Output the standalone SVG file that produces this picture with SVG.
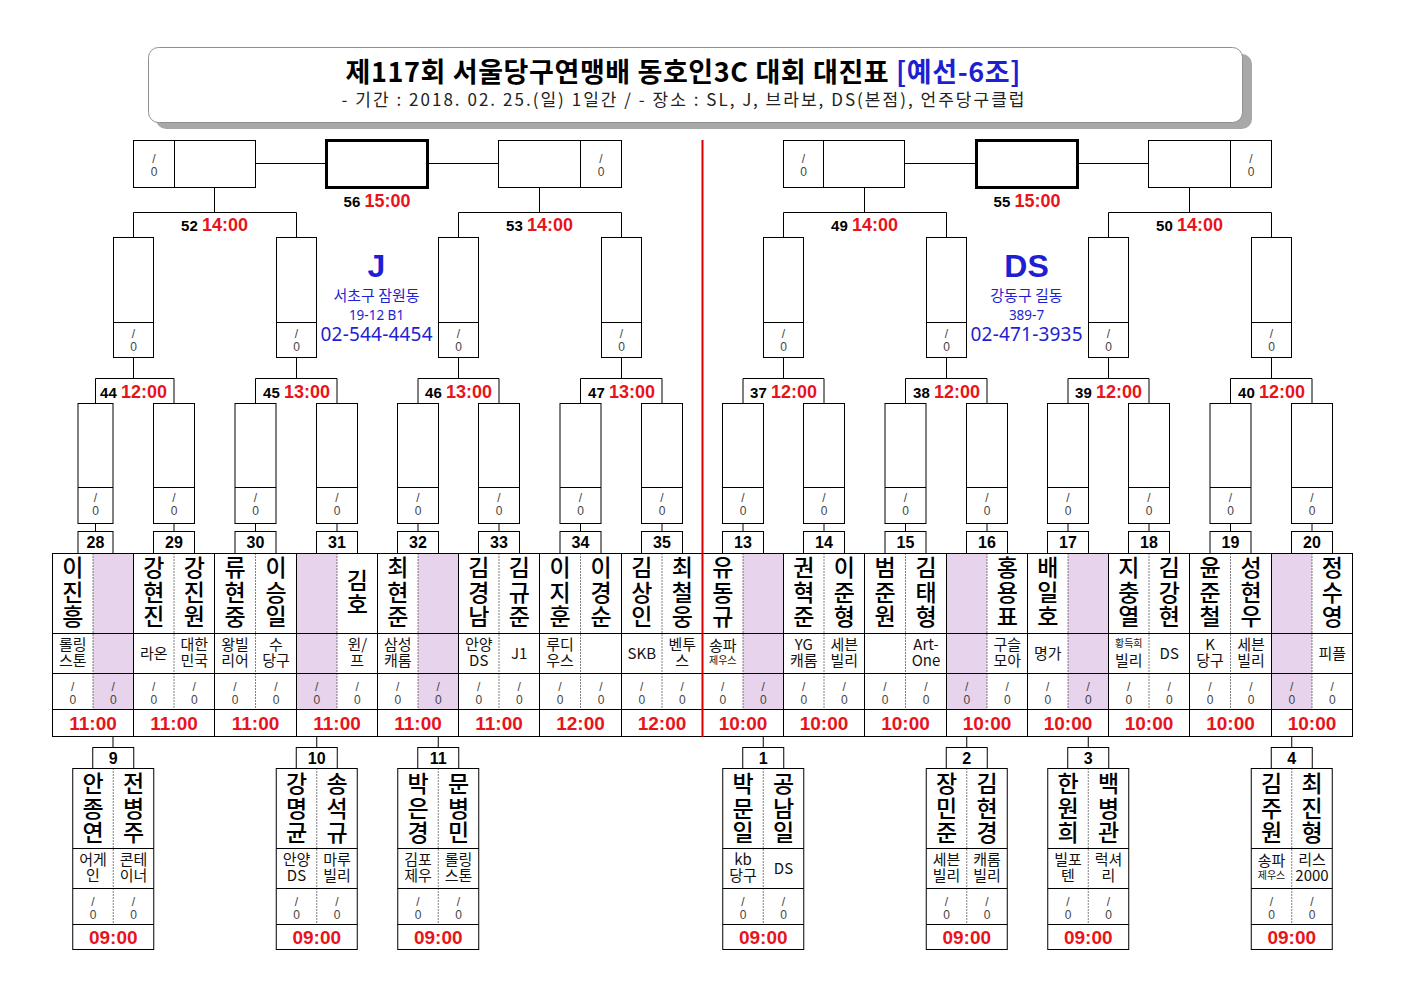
<svg xmlns="http://www.w3.org/2000/svg" xmlns:xlink="http://www.w3.org/1999/xlink" width="1403" height="992" viewBox="0 0 1403 992">
<style>
.ln{fill:none;stroke:#000;stroke-width:1}
.bx{fill:#fff;stroke:#000;stroke-width:1}
.fb{fill:#fff;stroke:#000;stroke-width:3}
.dt{fill:none;stroke:#000;stroke-width:1;stroke-dasharray:1 2}
.pk{fill:#E8D3EC}
.nm{font-family:"Noto Sans CJK KR","Noto Sans",sans-serif;font-size:23px;font-weight:500;fill:#000;text-anchor:middle;writing-mode:vertical-rl;text-orientation:upright;letter-spacing:1.5px}
.cl{font-family:"Noto Sans CJK KR","Noto Sans",sans-serif;font-size:15px;fill:#111;text-anchor:middle}
.cs{font-size:10px}
.sc{font-family:"Liberation Sans",sans-serif;font-size:12px;fill:#444;text-anchor:middle}
.tm{font-family:"Liberation Sans",sans-serif;font-size:19px;font-weight:bold;fill:#E8141B;text-anchor:middle}
.no{font-family:"Liberation Sans",sans-serif;font-size:16px;font-weight:bold;fill:#000;text-anchor:middle}
.lb{font-family:"Liberation Sans",sans-serif;font-weight:bold;text-anchor:middle;font-size:15px;fill:#000}
.lt{font-size:18px;fill:#E8141B}
.bl{fill:#1F1FD2;text-anchor:middle}
.kr{font-family:"Noto Sans CJK KR","Noto Sans",sans-serif}
.ns{font-family:"Noto Sans","DejaVu Sans",sans-serif}
</style>
<defs>
<g id="sc"><text class="sc" x="0" y="0">/</text><text class="sc" x="0" y="12.5">0</text></g>
</defs>
<rect width="1403" height="992" fill="#fff"/>

<g id="title">
<rect x="156" y="54" width="1096" height="75" rx="10" fill="#a8a8a8"/>
<rect x="148.5" y="47.5" width="1094" height="75" rx="10" fill="#fff" stroke="#909090"/>
<text x="683" y="82" class="kr" font-size="27" font-weight="bold" text-anchor="middle" fill="#000" textLength="675" lengthAdjust="spacing">제117회 서울당구연맹배 동호인3C 대회 대진표 <tspan fill="#1F1FD2">[예선-6조]</tspan></text>
<text x="683" y="106" class="kr" font-size="17" text-anchor="middle" fill="#222" textLength="683" lengthAdjust="spacing">- 기간 : 2018. 02. 25.(일) 1일간 / - 장소 : SL, J, 브라보, DS(본점), 언주당구클럽</text>
</g>

<g id="connectors">
<path class="ln" d="M255.5 163.5H326.5M427.5 163.5H498.5M904.5 163.5H976.5M1077.5 163.5H1148.5"/>
<path class="ln" d="M214.5 187.5V212.5M133.5 237.5V212.5H296.5V237.5M539.5 187.5V212.5M458.5 237.5V212.5H621.5V237.5M864.5 187.5V212.5M783.5 237.5V212.5H946.5V237.5M1189.5 187.5V212.5M1108.5 237.5V212.5H1271.5V237.5"/>
<path class="ln" d="M133.5 357.5V378.5M95.5 403.5V378.5H174V403.5M296.5 357.5V378.5M255.5 403.5V378.5H337V403.5M458.5 357.5V378.5M418 403.5V378.5H499V403.5M621.5 357.5V378.5M580.5 403.5V378.5H662V403.5M783.5 357.5V378.5M743 403.5V378.5H824V403.5M946.5 357.5V378.5M905.5 403.5V378.5H987V403.5M1108.5 357.5V378.5M1068 403.5V378.5H1149V403.5M1271.5 357.5V378.5M1230.5 403.5V378.5H1312V403.5"/>
<path class="ln" d="M95.5 523.5V531.5M174 523.5V531.5M255.5 523.5V531.5M337 523.5V531.5M418 523.5V531.5M499 523.5V531.5M580.5 523.5V531.5M662 523.5V531.5M743 523.5V531.5M824 523.5V531.5M905.5 523.5V531.5M987 523.5V531.5M1068 523.5V531.5M1149 523.5V531.5M1230.5 523.5V531.5M1312 523.5V531.5"/>
<path class="ln" d="M113 737V747.5M316.75 737V747.5M438.25 737V747.5M763.25 737V747.5M966.75 737V747.5M1088.25 737V747.5M1291.75 737V747.5"/>
</g>

<!-- top round -->
<g id="m56">
<rect class="fb" x="326.5" y="140.5" width="101" height="47"/>
<text class="lb" x="377" y="207">56 <tspan class="lt">15:00</tspan></text>
</g>
<g id="m55">
<rect class="fb" x="976.5" y="140.5" width="101" height="47"/>
<text class="lb" x="1027" y="207">55 <tspan class="lt">15:00</tspan></text>
</g>
<g id="m52">
<rect class="bx" x="133.5" y="140.5" width="122" height="47"/>
<line class="ln" x1="174.5" y1="140.5" x2="174.5" y2="187.5"/>
<use href="#sc" x="154" y="163"/>
<text class="lb" x="214.5" y="231">52 <tspan class="lt">14:00</tspan></text>
</g>
<g id="m53">
<rect class="bx" x="498.5" y="140.5" width="123" height="47"/>
<line class="ln" x1="580.5" y1="140.5" x2="580.5" y2="187.5"/>
<use href="#sc" x="601" y="163"/>
<text class="lb" x="539.5" y="231">53 <tspan class="lt">14:00</tspan></text>
</g>
<g id="m49">
<rect class="bx" x="783.5" y="140.5" width="121" height="47"/>
<line class="ln" x1="823.5" y1="140.5" x2="823.5" y2="187.5"/>
<use href="#sc" x="803.5" y="163"/>
<text class="lb" x="864.5" y="231">49 <tspan class="lt">14:00</tspan></text>
</g>
<g id="m50">
<rect class="bx" x="1148.5" y="140.5" width="123" height="47"/>
<line class="ln" x1="1230.5" y1="140.5" x2="1230.5" y2="187.5"/>
<use href="#sc" x="1251" y="163"/>
<text class="lb" x="1189.5" y="231">50 <tspan class="lt">14:00</tspan></text>
</g>

<!-- round 3 rects + labels -->
<g id="m44"><rect class="bx" x="113.5" y="237.5" width="40" height="120"/><line class="ln" x1="113.5" y1="322.5" x2="153.5" y2="322.5"/><use href="#sc" x="133.5" y="338"/><text class="lb" x="133.5" y="398">44 <tspan class="lt">12:00</tspan></text></g>
<g id="m45"><rect class="bx" x="276.5" y="237.5" width="40" height="120"/><line class="ln" x1="276.5" y1="322.5" x2="316.5" y2="322.5"/><use href="#sc" x="296.5" y="338"/><text class="lb" x="296.5" y="398">45 <tspan class="lt">13:00</tspan></text></g>
<g id="m46"><rect class="bx" x="438.5" y="237.5" width="40" height="120"/><line class="ln" x1="438.5" y1="322.5" x2="478.5" y2="322.5"/><use href="#sc" x="458.5" y="338"/><text class="lb" x="458.5" y="398">46 <tspan class="lt">13:00</tspan></text></g>
<g id="m47"><rect class="bx" x="601.5" y="237.5" width="40" height="120"/><line class="ln" x1="601.5" y1="322.5" x2="641.5" y2="322.5"/><use href="#sc" x="621.5" y="338"/><text class="lb" x="621.5" y="398">47 <tspan class="lt">13:00</tspan></text></g>
<g id="m37"><rect class="bx" x="763.5" y="237.5" width="40" height="120"/><line class="ln" x1="763.5" y1="322.5" x2="803.5" y2="322.5"/><use href="#sc" x="783.5" y="338"/><text class="lb" x="783.5" y="398">37 <tspan class="lt">12:00</tspan></text></g>
<g id="m38"><rect class="bx" x="926.5" y="237.5" width="40" height="120"/><line class="ln" x1="926.5" y1="322.5" x2="966.5" y2="322.5"/><use href="#sc" x="946.5" y="338"/><text class="lb" x="946.5" y="398">38 <tspan class="lt">12:00</tspan></text></g>
<g id="m39"><rect class="bx" x="1088.5" y="237.5" width="40" height="120"/><line class="ln" x1="1088.5" y1="322.5" x2="1128.5" y2="322.5"/><use href="#sc" x="1108.5" y="338"/><text class="lb" x="1108.5" y="398">39 <tspan class="lt">12:00</tspan></text></g>
<g id="m40"><rect class="bx" x="1251.5" y="237.5" width="40" height="120"/><line class="ln" x1="1251.5" y1="322.5" x2="1291.5" y2="322.5"/><use href="#sc" x="1271.5" y="338"/><text class="lb" x="1271.5" y="398">40 <tspan class="lt">12:00</tspan></text></g>

<g id="venue-j">
<text x="376.5" y="277" font-family="Liberation Sans" font-weight="bold" font-size="32" class="bl">J</text>
<text x="376.5" y="301" class="kr bl" font-size="15">서초구 잠원동</text>
<text x="376.5" y="320" class="ns bl" font-size="13.5">19-12 B1</text>
<text x="376.5" y="341" class="ns bl" font-size="19" textLength="112" lengthAdjust="spacing">02-544-4454</text>
</g>
<g id="venue-ds">
<text x="1026.5" y="277" font-family="Liberation Sans" font-weight="bold" font-size="32" class="bl">DS</text>
<text x="1026.5" y="301" class="kr bl" font-size="15">강동구 길동</text>
<text x="1026.5" y="320" class="ns bl" font-size="13.5">389-7</text>
<text x="1026.5" y="341" class="ns bl" font-size="19" textLength="112" lengthAdjust="spacing">02-471-3935</text>
</g>

<!-- table columns -->
<g id="m28">
<rect class="bx" x="78" y="403.5" width="35" height="120"/><line class="ln" x1="78" y1="487.5" x2="113" y2="487.5"/><use href="#sc" x="95.5" y="502"/>
<rect class="bx" x="78" y="531.5" width="35" height="22"/><text class="no" x="95.5" y="548">28</text>
<rect class="pk" x="93" y="553.5" width="40.5" height="156"/>
<text class="nm" x="72.75" y="593">이진흥</text>
<text class="cl"><tspan x="72.75" y="650">롤링</tspan><tspan x="72.75" y="666">스톤</tspan></text>
<use href="#sc" x="72.75" y="691"/><use href="#sc" x="113.25" y="691"/>
<text class="tm" x="93" y="730">11:00</text>
</g>
<g id="m29">
<rect class="bx" x="153.5" y="403.5" width="41" height="120"/><line class="ln" x1="153.5" y1="487.5" x2="194.5" y2="487.5"/><use href="#sc" x="174" y="502"/>
<rect class="bx" x="153.5" y="531.5" width="41" height="22"/><text class="no" x="174" y="548">29</text>
<text class="nm" x="153.75" y="593">강현진</text>
<text class="nm" x="194.25" y="593">강진원</text>
<text class="cl" x="153.75" y="659">라온</text>
<text class="cl"><tspan x="194.25" y="650">대한</tspan><tspan x="194.25" y="666">민국</tspan></text>
<use href="#sc" x="153.75" y="691"/><use href="#sc" x="194.25" y="691"/>
<text class="tm" x="174" y="730">11:00</text>
</g>
<g id="m30">
<rect class="bx" x="235" y="403.5" width="41" height="120"/><line class="ln" x1="235" y1="487.5" x2="276" y2="487.5"/><use href="#sc" x="255.5" y="502"/>
<rect class="bx" x="235" y="531.5" width="41" height="22"/><text class="no" x="255.5" y="548">30</text>
<text class="nm" x="235" y="593">류현중</text>
<text class="nm" x="276" y="593">이승일</text>
<text class="cl"><tspan x="235" y="650">왕빌</tspan><tspan x="235" y="666">리어</tspan></text>
<text class="cl"><tspan x="276" y="650">수</tspan><tspan x="276" y="666">당구</tspan></text>
<use href="#sc" x="235" y="691"/><use href="#sc" x="276" y="691"/>
<text class="tm" x="255.5" y="730">11:00</text>
</g>
<g id="m31">
<rect class="bx" x="316.5" y="403.5" width="41" height="120"/><line class="ln" x1="316.5" y1="487.5" x2="357.5" y2="487.5"/><use href="#sc" x="337" y="502"/>
<rect class="bx" x="316.5" y="531.5" width="41" height="22"/><text class="no" x="337" y="548">31</text>
<rect class="pk" x="296.5" y="553.5" width="40.5" height="156"/>
<text class="nm" x="357.25" y="593">김호</text>
<text class="cl"><tspan x="357.25" y="650">윈/</tspan><tspan x="357.25" y="666">프</tspan></text>
<use href="#sc" x="316.75" y="691"/><use href="#sc" x="357.25" y="691"/>
<text class="tm" x="337" y="730">11:00</text>
</g>
<g id="m32">
<rect class="bx" x="397.5" y="403.5" width="41" height="120"/><line class="ln" x1="397.5" y1="487.5" x2="438.5" y2="487.5"/><use href="#sc" x="418" y="502"/>
<rect class="bx" x="397.5" y="531.5" width="41" height="22"/><text class="no" x="418" y="548">32</text>
<rect class="pk" x="418" y="553.5" width="40.5" height="156"/>
<text class="nm" x="397.75" y="593">최현준</text>
<text class="cl"><tspan x="397.75" y="650">삼성</tspan><tspan x="397.75" y="666">캐롬</tspan></text>
<use href="#sc" x="397.75" y="691"/><use href="#sc" x="438.25" y="691"/>
<text class="tm" x="418" y="730">11:00</text>
</g>
<g id="m33">
<rect class="bx" x="478.5" y="403.5" width="41" height="120"/><line class="ln" x1="478.5" y1="487.5" x2="519.5" y2="487.5"/><use href="#sc" x="499" y="502"/>
<rect class="bx" x="478.5" y="531.5" width="41" height="22"/><text class="no" x="499" y="548">33</text>
<text class="nm" x="478.75" y="593">김경남</text>
<text class="nm" x="519.25" y="593">김규준</text>
<text class="cl"><tspan x="478.75" y="650">안양</tspan><tspan x="478.75" y="666">DS</tspan></text>
<text class="cl" x="519.25" y="659">J1</text>
<use href="#sc" x="478.75" y="691"/><use href="#sc" x="519.25" y="691"/>
<text class="tm" x="499" y="730">11:00</text>
</g>
<g id="m34">
<rect class="bx" x="560" y="403.5" width="41" height="120"/><line class="ln" x1="560" y1="487.5" x2="601" y2="487.5"/><use href="#sc" x="580.5" y="502"/>
<rect class="bx" x="560" y="531.5" width="41" height="22"/><text class="no" x="580.5" y="548">34</text>
<text class="nm" x="560" y="593">이지훈</text>
<text class="nm" x="601" y="593">이경순</text>
<text class="cl"><tspan x="560" y="650">루디</tspan><tspan x="560" y="666">우스</tspan></text>
<use href="#sc" x="560" y="691"/><use href="#sc" x="601" y="691"/>
<text class="tm" x="580.5" y="730">12:00</text>
</g>
<g id="m35">
<rect class="bx" x="641.5" y="403.5" width="41" height="120"/><line class="ln" x1="641.5" y1="487.5" x2="682.5" y2="487.5"/><use href="#sc" x="662" y="502"/>
<rect class="bx" x="641.5" y="531.5" width="41" height="22"/><text class="no" x="662" y="548">35</text>
<text class="nm" x="641.75" y="593">김상인</text>
<text class="nm" x="682.25" y="593">최철웅</text>
<text class="cl" x="641.75" y="659">SKB</text>
<text class="cl"><tspan x="682.25" y="650">벤투</tspan><tspan x="682.25" y="666">스</tspan></text>
<use href="#sc" x="641.75" y="691"/><use href="#sc" x="682.25" y="691"/>
<text class="tm" x="662" y="730">12:00</text>
</g>
<g id="m13">
<rect class="bx" x="722.5" y="403.5" width="41" height="120"/><line class="ln" x1="722.5" y1="487.5" x2="763.5" y2="487.5"/><use href="#sc" x="743" y="502"/>
<rect class="bx" x="722.5" y="531.5" width="41" height="22"/><text class="no" x="743" y="548">13</text>
<rect class="pk" x="743" y="553.5" width="40.5" height="156"/>
<text class="nm" x="722.75" y="593">유동규</text>
<text class="cl"><tspan x="722.75" y="651">송파</tspan><tspan x="722.75" y="664" class="cs">제우스</tspan></text>
<use href="#sc" x="722.75" y="691"/><use href="#sc" x="763.25" y="691"/>
<text class="tm" x="743" y="730">10:00</text>
</g>
<g id="m14">
<rect class="bx" x="803.5" y="403.5" width="41" height="120"/><line class="ln" x1="803.5" y1="487.5" x2="844.5" y2="487.5"/><use href="#sc" x="824" y="502"/>
<rect class="bx" x="803.5" y="531.5" width="41" height="22"/><text class="no" x="824" y="548">14</text>
<text class="nm" x="803.75" y="593">권혁준</text>
<text class="nm" x="844.25" y="593">이준형</text>
<text class="cl"><tspan x="803.75" y="650">YG</tspan><tspan x="803.75" y="666">캐롬</tspan></text>
<text class="cl"><tspan x="844.25" y="650">세븐</tspan><tspan x="844.25" y="666">빌리</tspan></text>
<use href="#sc" x="803.75" y="691"/><use href="#sc" x="844.25" y="691"/>
<text class="tm" x="824" y="730">10:00</text>
</g>
<g id="m15">
<rect class="bx" x="885" y="403.5" width="41" height="120"/><line class="ln" x1="885" y1="487.5" x2="926" y2="487.5"/><use href="#sc" x="905.5" y="502"/>
<rect class="bx" x="885" y="531.5" width="41" height="22"/><text class="no" x="905.5" y="548">15</text>
<text class="nm" x="885" y="593">범준원</text>
<text class="nm" x="926" y="593">김태형</text>
<text class="cl"><tspan x="926" y="650">Art-</tspan><tspan x="926" y="666">One</tspan></text>
<use href="#sc" x="885" y="691"/><use href="#sc" x="926" y="691"/>
<text class="tm" x="905.5" y="730">10:00</text>
</g>
<g id="m16">
<rect class="bx" x="966.5" y="403.5" width="41" height="120"/><line class="ln" x1="966.5" y1="487.5" x2="1007.5" y2="487.5"/><use href="#sc" x="987" y="502"/>
<rect class="bx" x="966.5" y="531.5" width="41" height="22"/><text class="no" x="987" y="548">16</text>
<rect class="pk" x="946.5" y="553.5" width="40.5" height="156"/>
<text class="nm" x="1007.25" y="593">홍용표</text>
<text class="cl"><tspan x="1007.25" y="650">구슬</tspan><tspan x="1007.25" y="666">모아</tspan></text>
<use href="#sc" x="966.75" y="691"/><use href="#sc" x="1007.25" y="691"/>
<text class="tm" x="987" y="730">10:00</text>
</g>
<g id="m17">
<rect class="bx" x="1047.5" y="403.5" width="41" height="120"/><line class="ln" x1="1047.5" y1="487.5" x2="1088.5" y2="487.5"/><use href="#sc" x="1068" y="502"/>
<rect class="bx" x="1047.5" y="531.5" width="41" height="22"/><text class="no" x="1068" y="548">17</text>
<rect class="pk" x="1068" y="553.5" width="40.5" height="156"/>
<text class="nm" x="1047.75" y="593">배일호</text>
<text class="cl" x="1047.75" y="659">명가</text>
<use href="#sc" x="1047.75" y="691"/><use href="#sc" x="1088.25" y="691"/>
<text class="tm" x="1068" y="730">10:00</text>
</g>
<g id="m18">
<rect class="bx" x="1128.5" y="403.5" width="41" height="120"/><line class="ln" x1="1128.5" y1="487.5" x2="1169.5" y2="487.5"/><use href="#sc" x="1149" y="502"/>
<rect class="bx" x="1128.5" y="531.5" width="41" height="22"/><text class="no" x="1149" y="548">18</text>
<text class="nm" x="1128.75" y="593">지충열</text>
<text class="nm" x="1169.25" y="593">김강현</text>
<text class="cl"><tspan x="1128.75" y="647" class="cs">황득희</tspan><tspan x="1128.75" y="666">빌리</tspan></text>
<text class="cl" x="1169.25" y="659">DS</text>
<use href="#sc" x="1128.75" y="691"/><use href="#sc" x="1169.25" y="691"/>
<text class="tm" x="1149" y="730">10:00</text>
</g>
<g id="m19">
<rect class="bx" x="1210" y="403.5" width="41" height="120"/><line class="ln" x1="1210" y1="487.5" x2="1251" y2="487.5"/><use href="#sc" x="1230.5" y="502"/>
<rect class="bx" x="1210" y="531.5" width="41" height="22"/><text class="no" x="1230.5" y="548">19</text>
<text class="nm" x="1210" y="593">윤준철</text>
<text class="nm" x="1251" y="593">성현우</text>
<text class="cl"><tspan x="1210" y="650">K</tspan><tspan x="1210" y="666">당구</tspan></text>
<text class="cl"><tspan x="1251" y="650">세븐</tspan><tspan x="1251" y="666">빌리</tspan></text>
<use href="#sc" x="1210" y="691"/><use href="#sc" x="1251" y="691"/>
<text class="tm" x="1230.5" y="730">10:00</text>
</g>
<g id="m20">
<rect class="bx" x="1291.5" y="403.5" width="41" height="120"/><line class="ln" x1="1291.5" y1="487.5" x2="1332.5" y2="487.5"/><use href="#sc" x="1312" y="502"/>
<rect class="bx" x="1291.5" y="531.5" width="41" height="22"/><text class="no" x="1312" y="548">20</text>
<rect class="pk" x="1271.5" y="553.5" width="40.5" height="156"/>
<text class="nm" x="1332.25" y="593">정수영</text>
<text class="cl" x="1332.25" y="659">피플</text>
<use href="#sc" x="1291.75" y="691"/><use href="#sc" x="1332.25" y="691"/>
<text class="tm" x="1312" y="730">10:00</text>
</g>

<g id="table-grid">
<rect class="ln" x="52.5" y="553.5" width="1300" height="183"/>
<path class="ln" d="M52.5 633.5H1352.5M52.5 673.5H1352.5M52.5 709.5H1352.5M133.5 553.5V736.5M214.5 553.5V736.5M296.5 553.5V736.5M377.5 553.5V736.5M458.5 553.5V736.5M539.5 553.5V736.5M621.5 553.5V736.5M783.5 553.5V736.5M864.5 553.5V736.5M946.5 553.5V736.5M1027.5 553.5V736.5M1108.5 553.5V736.5M1189.5 553.5V736.5M1271.5 553.5V736.5"/>
<path class="dt" d="M93 553.5V709.5M174 553.5V709.5M255.5 553.5V709.5M337 553.5V709.5M418 553.5V709.5M499 553.5V709.5M580.5 553.5V709.5M662 553.5V709.5M743 553.5V709.5M824 553.5V709.5M905.5 553.5V709.5M987 553.5V709.5M1068 553.5V709.5M1149 553.5V709.5M1230.5 553.5V709.5M1312 553.5V709.5"/>
</g>
<line id="divider" x1="702.5" y1="140" x2="702.5" y2="737" stroke="#D80000" stroke-width="2"/>

<!-- bottom first-round boxes -->
<g id="m9">
<rect class="bx" x="92.75" y="747.5" width="41" height="21"/><text class="no" x="113.25" y="764">9</text>
<rect class="bx" x="72.75" y="768.5" width="81" height="181"/>
<path class="ln" d="M72.75 848.5H153.75M72.75 888.5H153.75M72.75 924.5H153.75"/>
<path class="dt" d="M113.25 768.5V924.5"/>
<text class="nm" x="93" y="809">안종연</text>
<text class="nm" x="133.5" y="809">전병주</text>
<text class="cl"><tspan x="93" y="865">어게</tspan><tspan x="93" y="881">인</tspan></text>
<text class="cl"><tspan x="133.5" y="865">콘테</tspan><tspan x="133.5" y="881">이너</tspan></text>
<use href="#sc" x="93" y="906"/><use href="#sc" x="133.5" y="906"/>
<text class="tm" x="113.25" y="944">09:00</text>
</g>
<g id="m10">
<rect class="bx" x="296.25" y="747.5" width="41" height="21"/><text class="no" x="316.75" y="764">10</text>
<rect class="bx" x="276.25" y="768.5" width="81" height="181"/>
<path class="ln" d="M276.25 848.5H357.25M276.25 888.5H357.25M276.25 924.5H357.25"/>
<path class="dt" d="M316.75 768.5V924.5"/>
<text class="nm" x="296.5" y="809">강명균</text>
<text class="nm" x="337" y="809">송석규</text>
<text class="cl"><tspan x="296.5" y="865">안양</tspan><tspan x="296.5" y="881">DS</tspan></text>
<text class="cl"><tspan x="337" y="865">마루</tspan><tspan x="337" y="881">빌리</tspan></text>
<use href="#sc" x="296.5" y="906"/><use href="#sc" x="337" y="906"/>
<text class="tm" x="316.75" y="944">09:00</text>
</g>
<g id="m11">
<rect class="bx" x="417.75" y="747.5" width="41" height="21"/><text class="no" x="438.25" y="764">11</text>
<rect class="bx" x="397.75" y="768.5" width="81" height="181"/>
<path class="ln" d="M397.75 848.5H478.75M397.75 888.5H478.75M397.75 924.5H478.75"/>
<path class="dt" d="M438.25 768.5V924.5"/>
<text class="nm" x="418" y="809">박은경</text>
<text class="nm" x="458.5" y="809">문병민</text>
<text class="cl"><tspan x="418" y="865">김포</tspan><tspan x="418" y="881">제우</tspan></text>
<text class="cl"><tspan x="458.5" y="865">롤링</tspan><tspan x="458.5" y="881">스톤</tspan></text>
<use href="#sc" x="418" y="906"/><use href="#sc" x="458.5" y="906"/>
<text class="tm" x="438.25" y="944">09:00</text>
</g>
<g id="m1">
<rect class="bx" x="742.75" y="747.5" width="41" height="21"/><text class="no" x="763.25" y="764">1</text>
<rect class="bx" x="722.75" y="768.5" width="81" height="181"/>
<path class="ln" d="M722.75 848.5H803.75M722.75 888.5H803.75M722.75 924.5H803.75"/>
<path class="dt" d="M763.25 768.5V924.5"/>
<text class="nm" x="743" y="809">박문일</text>
<text class="nm" x="783.5" y="809">공남일</text>
<text class="cl"><tspan x="743" y="865">kb</tspan><tspan x="743" y="881">당구</tspan></text>
<text class="cl" x="783.5" y="874">DS</text>
<use href="#sc" x="743" y="906"/><use href="#sc" x="783.5" y="906"/>
<text class="tm" x="763.25" y="944">09:00</text>
</g>
<g id="m2">
<rect class="bx" x="946.25" y="747.5" width="41" height="21"/><text class="no" x="966.75" y="764">2</text>
<rect class="bx" x="926.25" y="768.5" width="81" height="181"/>
<path class="ln" d="M926.25 848.5H1007.25M926.25 888.5H1007.25M926.25 924.5H1007.25"/>
<path class="dt" d="M966.75 768.5V924.5"/>
<text class="nm" x="946.5" y="809">장민준</text>
<text class="nm" x="987" y="809">김현경</text>
<text class="cl"><tspan x="946.5" y="865">세븐</tspan><tspan x="946.5" y="881">빌리</tspan></text>
<text class="cl"><tspan x="987" y="865">캐롬</tspan><tspan x="987" y="881">빌리</tspan></text>
<use href="#sc" x="946.5" y="906"/><use href="#sc" x="987" y="906"/>
<text class="tm" x="966.75" y="944">09:00</text>
</g>
<g id="m3">
<rect class="bx" x="1067.75" y="747.5" width="41" height="21"/><text class="no" x="1088.25" y="764">3</text>
<rect class="bx" x="1047.75" y="768.5" width="81" height="181"/>
<path class="ln" d="M1047.75 848.5H1128.75M1047.75 888.5H1128.75M1047.75 924.5H1128.75"/>
<path class="dt" d="M1088.25 768.5V924.5"/>
<text class="nm" x="1068" y="809">한원희</text>
<text class="nm" x="1108.5" y="809">백병관</text>
<text class="cl"><tspan x="1068" y="865">빌포</tspan><tspan x="1068" y="881">텐</tspan></text>
<text class="cl"><tspan x="1108.5" y="865">럭셔</tspan><tspan x="1108.5" y="881">리</tspan></text>
<use href="#sc" x="1068" y="906"/><use href="#sc" x="1108.5" y="906"/>
<text class="tm" x="1088.25" y="944">09:00</text>
</g>
<g id="m4">
<rect class="bx" x="1271.25" y="747.5" width="41" height="21"/><text class="no" x="1291.75" y="764">4</text>
<rect class="bx" x="1251.25" y="768.5" width="81" height="181"/>
<path class="ln" d="M1251.25 848.5H1332.25M1251.25 888.5H1332.25M1251.25 924.5H1332.25"/>
<path class="dt" d="M1291.75 768.5V924.5"/>
<text class="nm" x="1271.5" y="809">김주원</text>
<text class="nm" x="1312" y="809">최진형</text>
<text class="cl"><tspan x="1271.5" y="866">송파</tspan><tspan x="1271.5" y="879" class="cs">제우스</tspan></text>
<text class="cl"><tspan x="1312" y="865">리스</tspan><tspan x="1312" y="881">2000</tspan></text>
<use href="#sc" x="1271.5" y="906"/><use href="#sc" x="1312" y="906"/>
<text class="tm" x="1291.75" y="944">09:00</text>
</g>
</svg>
